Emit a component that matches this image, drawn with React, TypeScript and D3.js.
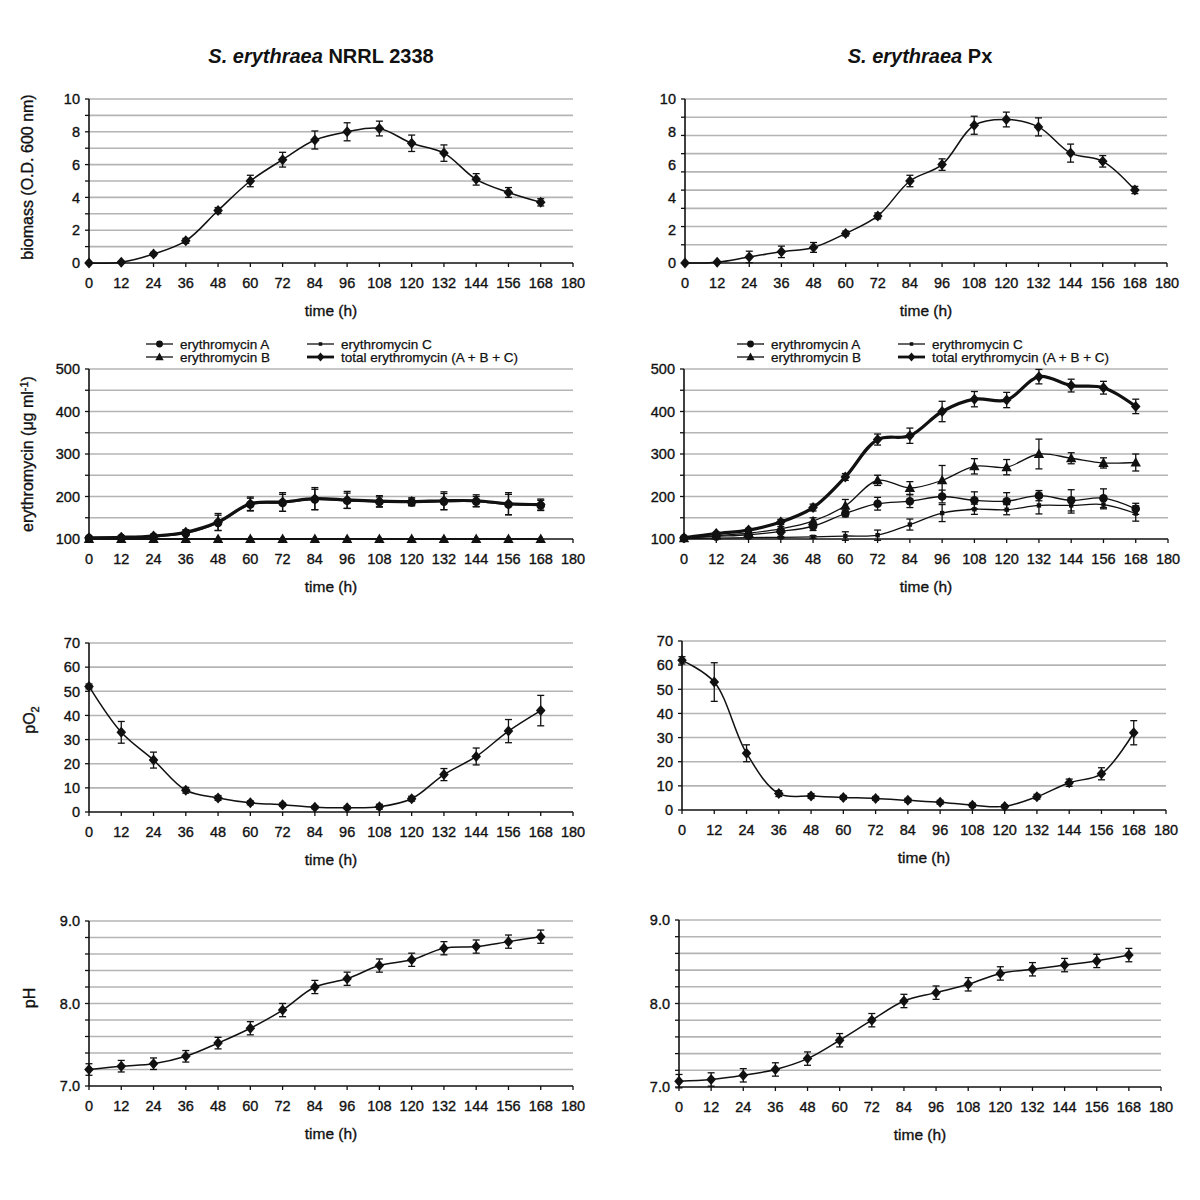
import React from 'react';
import * as d3 from 'd3';

const hours = [0, 12, 24, 36, 48, 60, 72, 84, 96, 108, 120, 132, 144, 156, 168];
const xTickValues = [0, 12, 24, 36, 48, 60, 72, 84, 96, 108, 120, 132, 144, 156, 168, 180];

const titleNRRL = ['S. erythraea', ' NRRL 2338'];
const titlePx = ['S. erythraea', ' Px'];

// biomass (O.D. 600 nm)
const biomassNRRL = [0, 0.05, 0.55, 1.35, 3.2, 5.0, 6.3, 7.5, 8.0, 8.2, 7.3, 6.7, 5.1, 4.3, 3.7];
const biomassNRRLErr = [0, 0.05, 0.1, 0.15, 0.18, 0.35, 0.45, 0.55, 0.55, 0.45, 0.5, 0.5, 0.35, 0.3, 0.22];
const biomassPx = [0, 0.05, 0.37, 0.68, 0.95, 1.8, 2.87, 5.0, 6.0, 8.4, 8.75, 8.3, 6.7, 6.2, 4.45];
const biomassPxErr = [0, 0.05, 0.35, 0.35, 0.3, 0.15, 0.18, 0.35, 0.35, 0.55, 0.45, 0.55, 0.55, 0.35, 0.22];
const biomassLabels = [0, 2, 4, 6, 8, 10];
const biomassGridNRRL = [0, 1, 2, 3, 4, 5, 6, 7, 8, 9, 10];
const biomassGridPx = [0, 1.111, 2.222, 3.333, 4.444, 5.556, 6.667, 7.778, 8.889, 10];

// erythromycin (µg/ml)
const eryANRRL = [102, 103, 105, 113, 138, 181, 185, 193, 190, 187, 186, 188, 188, 181, 179];
const eryANRRLErr = [2, 3, 3, 5, 18, 15, 20, 24, 18, 12, 8, 19, 12, 24, 12];
const eryBNRRL = [100, 100, 100, 100, 100, 100, 100, 100, 100, 100, 100, 100, 100, 100, 100];
const eryBNRRLErr = [0, 0, 0, 0, 0, 0, 0, 0, 0, 0, 0, 0, 0, 0, 0];
const eryCNRRL = [100, 100, 100, 100, 100, 100, 100, 100, 100, 100, 100, 100, 100, 100, 100];
const eryCNRRLErr = [0, 0, 0, 0, 0, 0, 0, 0, 0, 0, 0, 0, 0, 0, 0];
const eryTotalNRRL = [103, 104, 107, 116, 140, 183, 187, 195, 192, 189, 188, 190, 190, 183, 181];
const eryTotalNRRLErr = [2, 3, 4, 6, 20, 16, 22, 26, 20, 13, 9, 21, 14, 26, 13];

const eryAPx = [102, 106, 110, 118, 130, 160, 183, 189, 200, 191, 189, 202, 191, 196, 171];
const eryAPxErr = [2, 3, 4, 5, 10, 8, 15, 15, 15, 20, 20, 12, 25, 22, 13];
const eryBPx = [102, 108, 114, 124, 142, 178, 238, 220, 238, 271, 269, 300, 290, 279, 280];
const eryBPxErr = [2, 3, 4, 5, 8, 15, 12, 15, 35, 18, 18, 35, 13, 12, 20];
const eryCPx = [101, 102, 103, 104, 105, 107, 109, 134, 161, 170, 169, 179, 179, 181, 160];
const eryCPxErr = [1, 1, 1, 2, 3, 10, 12, 13, 20, 12, 12, 20, 18, 10, 18];
const eryTotalPx = [103, 113, 121, 140, 174, 246, 334, 343, 400, 429, 427, 482, 461, 456, 412];
const eryTotalPxErr = [2, 3, 4, 6, 8, 8, 13, 18, 24, 18, 18, 17, 15, 15, 17];
const eryLabels = [100, 200, 300, 400, 500];
const eryGrid = [100, 150, 200, 250, 300, 350, 400, 450, 500];
const eryLegend = ['erythromycin A', 'erythromycin B', 'erythromycin C', 'total erythromycin (A + B + C)'];

// pO2
const pO2NRRL = [52, 33, 21.5, 9, 5.8, 3.8, 3, 2, 1.8, 2.2, 5.5, 15.5, 23, 33.5, 42];
const pO2NRRLErr = [1, 4.5, 3.3, 1.2, 1, 0.8, 0.7, 0.6, 0.6, 1, 1, 2.5, 3.5, 4.8, 6.3];
const pO2Px = [62, 53, 23.5, 6.8, 5.8, 5.2, 4.8, 4, 3.2, 2, 1.5, 5.5, 11.3, 15, 32];
const pO2PxErr = [1.5, 8, 3.5, 1.2, 1, 0.8, 0.8, 0.8, 0.8, 0.8, 0.6, 1, 1.5, 2.5, 5];
const pO2Labels = [0, 10, 20, 30, 40, 50, 60, 70];

// pH
const pHNRRL = [7.2, 7.24, 7.27, 7.36, 7.52, 7.7, 7.92, 8.2, 8.3, 8.46, 8.53, 8.67, 8.69, 8.75, 8.81];
const pHNRRLErr = [0.07, 0.07, 0.07, 0.07, 0.07, 0.08, 0.08, 0.08, 0.08, 0.08, 0.08, 0.08, 0.08, 0.08, 0.08];
const pHPx = [7.07, 7.09, 7.14, 7.21, 7.34, 7.56, 7.8, 8.03, 8.13, 8.23, 8.36, 8.41, 8.46, 8.51, 8.58];
const pHPxErr = [0.08, 0.08, 0.08, 0.08, 0.08, 0.08, 0.08, 0.08, 0.08, 0.08, 0.08, 0.08, 0.08, 0.08, 0.08];
const pHLabels = [7.0, 8.0, 9.0];
const pHGrid = [7.0, 7.2, 7.4, 7.6, 7.8, 8.0, 8.2, 8.4, 8.6, 8.8, 9.0];

const FONT = '"Liberation Sans", Arial, Helvetica, sans-serif';
const INK = '#111';
const GRID = '#b4b4b4';
const TXT = { fill: INK, stroke: INK, strokeWidth: 0.35 };

type Marker = 'diamond' | 'circle' | 'triangle' | 'square';
interface Series { values: number[]; err: number[]; marker: Marker; width: number; }

function markerPath(m: Marker): string {
  if (m === 'diamond') return 'M0,-5.5L4.8,0L0,5.5L-4.8,0Z';
  if (m === 'triangle') return 'M0,-5.5L5.2,4L-5.2,4Z';
  if (m === 'square') return 'M-2.2,-2.2L2.2,-2.2L2.2,2.2L-2.2,2.2Z';
  return '';
}

function MarkerShape({ m, x, y }: { m: Marker; x: number; y: number }) {
  if (m === 'circle') return <circle cx={x} cy={y} r={4.3} fill={INK} />;
  return <path d={markerPath(m)} transform={`translate(${x},${y})`} fill={INK} />;
}

interface PanelProps {
  x0: number; x1: number; yTop: number; yBot: number;
  domain: [number, number];
  labels: number[]; fmt: (v: number) => string;
  grid: number[];
  series: Series[];
}

function Panel({ x0, x1, yTop, yBot, domain, labels, fmt, grid, series }: PanelProps) {
  const x = d3.scaleLinear().domain([0, 180]).range([x0, x1]);
  const y = d3.scaleLinear().domain(domain).range([yBot, yTop]);
  const line = d3.line<number>()
    .x((_, i) => x(hours[i]))
    .y((v) => y(v))
    .curve(d3.curveCatmullRom.alpha(0.5));
  return (
    <g>
      {grid.filter((g) => g !== domain[0]).map((g, i) => (
        <line key={'g' + i} x1={x0} x2={x1} y1={y(g)} y2={y(g)} stroke={GRID} strokeWidth={1.6} />
      ))}
      {grid.map((g, i) => (
        <line key={'yt' + i} x1={x0 - 4} x2={x0} y1={y(g)} y2={y(g)} stroke={INK} strokeWidth={1.3} />
      ))}
      {labels.map((l, i) => (
        <text key={'yl' + i} x={x0 - 9} y={y(l)} dy="0.36em" textAnchor="end" fontSize={14.5} {...TXT}>{fmt(l)}</text>
      ))}
      {xTickValues.map((t, i) => (
        <g key={'xt' + i}>
          <line x1={x(t)} x2={x(t)} y1={yBot} y2={yBot + 4} stroke={INK} strokeWidth={1.3} />
          <text x={x(t)} y={yBot + 25} textAnchor="middle" fontSize={14.5} {...TXT}>{t}</text>
        </g>
      ))}
      <line x1={x0} x2={x0} y1={yTop} y2={yBot} stroke={INK} strokeWidth={1.6} />
      <line x1={x0} x2={x1} y1={yBot} y2={yBot} stroke={INK} strokeWidth={1.6} />
      <text x={(x0 + x1) / 2} y={yBot + 53} textAnchor="middle" fontSize={15.5} {...TXT}>time (h)</text>
      {series.map((s, si) => (
        <g key={'s' + si}>
          <path d={line(s.values) || ''} fill="none" stroke={INK} strokeWidth={s.width} />
          {s.values.map((v, i) => s.err[i] > 0 ? (
            <g key={'e' + i} stroke={INK} strokeWidth={1.3}>
              <line x1={x(hours[i])} x2={x(hours[i])} y1={y(v - s.err[i])} y2={y(v + s.err[i])} />
              <line x1={x(hours[i]) - 3.5} x2={x(hours[i]) + 3.5} y1={y(v - s.err[i])} y2={y(v - s.err[i])} />
              <line x1={x(hours[i]) - 3.5} x2={x(hours[i]) + 3.5} y1={y(v + s.err[i])} y2={y(v + s.err[i])} />
            </g>
          ) : null)}
          {s.values.map((v, i) => (
            <MarkerShape key={'m' + i} m={s.marker} x={x(hours[i])} y={y(v)} />
          ))}
        </g>
      ))}
    </g>
  );
}

function Legend({ xA, xC, y1, y2 }: { xA: number; xC: number; y1: number; y2: number }) {
  const items: { x: number; y: number; m: Marker; w: number; label: string }[] = [
    { x: xA, y: y1, m: 'circle', w: 1.3, label: eryLegend[0] },
    { x: xA, y: y2, m: 'triangle', w: 1.3, label: eryLegend[1] },
    { x: xC, y: y1, m: 'square', w: 1.3, label: eryLegend[2] },
    { x: xC, y: y2, m: 'diamond', w: 2.8, label: eryLegend[3] },
  ];
  return (
    <g>
      {items.map((it, i) => (
        <g key={i}>
          <line x1={it.x} x2={it.x + 27} y1={it.y} y2={it.y} stroke={INK} strokeWidth={it.w} />
          <g transform={`translate(${it.x + 13.5},${it.y}) scale(0.8)`}>
            <MarkerShape m={it.m} x={0} y={0} />
          </g>
          <text x={it.x + 34} y={it.y} dy="0.35em" fontSize={13.5} {...TXT} strokeWidth={0.25}>{it.label}</text>
        </g>
      ))}
    </g>
  );
}

function YTitle({ x, y, children }: { x: number; y: number; children: React.ReactNode }) {
  return (
    <text transform={`translate(${x},${y}) rotate(-90)`} textAnchor="middle" dy="0.35em" fontSize={16} {...TXT}>
      {children}
    </text>
  );
}

const f0 = (v: number) => String(v);
const f1 = (v: number) => v.toFixed(1);

export default function App() {
  return (
    <svg width={1200} height={1200} style={{ position: 'absolute', left: 0, top: 0, background: '#fff' }} fontFamily={FONT}>
      <rect width={1200} height={1200} fill="#fff" />
      <text x={321} y={63} textAnchor="middle" fontSize={20} fontWeight="bold" fill={INK}>
        <tspan fontStyle="italic">{titleNRRL[0]}</tspan>{titleNRRL[1]}
      </text>
      <text x={920} y={63} textAnchor="middle" fontSize={20} fontWeight="bold" fill={INK}>
        <tspan fontStyle="italic">{titlePx[0]}</tspan>{titlePx[1]}
      </text>

      {/* biomass */}
      <YTitle x={27} y={177}>biomass (O.D. 600 nm)</YTitle>
      <Panel x0={89} x1={573} yTop={99} yBot={263} domain={[0, 10]} labels={biomassLabels} fmt={f0}
        grid={biomassGridNRRL} series={[{ values: biomassNRRL, err: biomassNRRLErr, marker: 'diamond', width: 1.5 }]} />
      <Panel x0={685} x1={1167} yTop={99} yBot={263} domain={[0, 10]} labels={biomassLabels} fmt={f0}
        grid={biomassGridPx} series={[{ values: biomassPx, err: biomassPxErr, marker: 'diamond', width: 1.5 }]} />

      {/* erythromycin */}
      <Legend xA={146} xC={307} y1={344} y2={357} />
      <Legend xA={737} xC={898} y1={344} y2={357} />
      <YTitle x={27} y={454}>erythromycin (μg ml<tspan fontSize={11} dy={-5}>-1</tspan><tspan dy={5}>)</tspan></YTitle>
      <Panel x0={89} x1={573} yTop={369} yBot={539} domain={[100, 500]} labels={eryLabels} fmt={f0} grid={eryGrid}
        series={[
          { values: eryCNRRL, err: eryCNRRLErr, marker: 'square', width: 1.3 },
          { values: eryBNRRL, err: eryBNRRLErr, marker: 'triangle', width: 1.3 },
          { values: eryANRRL, err: eryANRRLErr, marker: 'circle', width: 1.3 },
          { values: eryTotalNRRL, err: eryTotalNRRLErr, marker: 'diamond', width: 3.2 },
        ]} />
      <Panel x0={684} x1={1168} yTop={369} yBot={539} domain={[100, 500]} labels={eryLabels} fmt={f0} grid={eryGrid}
        series={[
          { values: eryCPx, err: eryCPxErr, marker: 'square', width: 1.3 },
          { values: eryAPx, err: eryAPxErr, marker: 'circle', width: 1.3 },
          { values: eryBPx, err: eryBPxErr, marker: 'triangle', width: 1.3 },
          { values: eryTotalPx, err: eryTotalPxErr, marker: 'diamond', width: 3.2 },
        ]} />

      {/* pO2 */}
      <YTitle x={29} y={720}>pO<tspan fontSize={11} dy={4}>2</tspan></YTitle>
      <Panel x0={89} x1={573} yTop={643} yBot={812} domain={[0, 70]} labels={pO2Labels} fmt={f0} grid={pO2Labels}
        series={[{ values: pO2NRRL, err: pO2NRRLErr, marker: 'diamond', width: 1.5 }]} />
      <Panel x0={682} x1={1166} yTop={641} yBot={810} domain={[0, 70]} labels={pO2Labels} fmt={f0} grid={pO2Labels}
        series={[{ values: pO2Px, err: pO2PxErr, marker: 'diamond', width: 1.5 }]} />

      {/* pH */}
      <YTitle x={29} y={998}>pH</YTitle>
      <Panel x0={89} x1={573} yTop={921} yBot={1086} domain={[7, 9]} labels={pHLabels} fmt={f1} grid={pHGrid}
        series={[{ values: pHNRRL, err: pHNRRLErr, marker: 'diamond', width: 1.5 }]} />
      <Panel x0={679} x1={1161} yTop={920} yBot={1087} domain={[7, 9]} labels={pHLabels} fmt={f1} grid={pHGrid}
        series={[{ values: pHPx, err: pHPxErr, marker: 'diamond', width: 1.5 }]} />
    </svg>
  );
}
